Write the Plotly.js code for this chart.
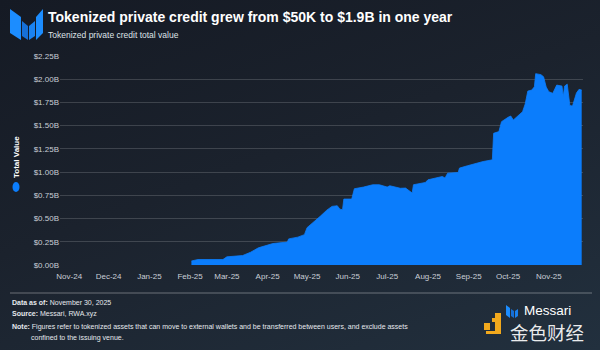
<!DOCTYPE html>
<html>
<head>
<meta charset="utf-8">
<script src="https://cdn.plot.ly/plotly-3.0.1.min.js"></script>
<style>
html,body{margin:0;padding:0;}
body{width:600px;height:350px;overflow:hidden;background:linear-gradient(160deg,#151a24 0%,#1b222d 45%,#22303e 100%);}
#chart{width:600px;height:350px;}
</style>
</head>
<body>
<div id="chart"></div>
<script>
// ---- data ----
const dates = ['2025-02-02','2025-02-07','2025-02-26','2025-03-01','2025-03-13','2025-03-19','2025-03-25','2025-03-30','2025-04-05','2025-04-16',
'2025-04-17','2025-04-24','2025-04-29','2025-05-01','2025-05-06','2025-05-11','2025-05-16','2025-05-20','2025-05-24','2025-05-26',
'2025-05-28','2025-05-29','2025-06-04','2025-06-06','2025-06-13','2025-06-20','2025-06-25','2025-07-01','2025-07-03','2025-07-11',
'2025-07-15','2025-07-17','2025-07-20','2025-07-21','2025-07-27','2025-07-30','2025-08-01','2025-08-07','2025-08-12','2025-08-14',
'2025-08-16','2025-08-24','2025-08-25','2025-08-31','2025-09-05','2025-09-12','2025-09-19','2025-09-20','2025-09-24','2025-09-26',
'2025-10-01','2025-10-03','2025-10-05','2025-10-08','2025-10-12','2025-10-14','2025-10-16','2025-10-19','2025-10-21','2025-10-22',
'2025-10-26','2025-10-28','2025-10-30','2025-11-01','2025-11-04','2025-11-07','2025-11-11','2025-11-12','2025-11-13','2025-11-15',
'2025-11-16','2025-11-17','2025-11-19','2025-11-22','2025-11-24','2025-11-26'];
// Total value, billions USD
const totalValueB = [0.043,0.059,0.059,0.088,0.102,0.137,0.185,0.209,0.231,0.247,
0.281,0.300,0.327,0.402,0.461,0.524,0.590,0.631,0.638,0.601,
0.595,0.710,0.710,0.821,0.839,0.864,0.864,0.839,0.853,0.826,
0.828,0.805,0.775,0.864,0.880,0.888,0.917,0.936,0.953,0.936,
0.989,0.996,1.043,1.068,1.089,1.114,1.132,1.418,1.436,1.543,
1.590,1.604,1.561,1.604,1.650,1.733,1.872,1.883,1.918,2.060,
2.049,2.026,1.915,1.865,1.848,1.937,1.926,1.813,1.926,1.947,
1.851,1.717,1.711,1.851,1.891,1.883];
const seriesName = 'Total Value';
const xRange = ['2024-10-25','2025-11-27'];
const yTickVals = [0,0.25,0.5,0.75,1,1.25,1.5,1.75,2,2.25];
const yTickText = ['$0.00B','$0.25B','$0.50B','$0.75B','$1.00B','$1.25B','$1.50B','$1.75B','$2.00B','$2.25B'];

const titleText = 'Tokenized private credit grew from $50K to $1.9B in one year';
const subtitleText = 'Tokenized private credit total value';
const footer1 = '<b>Data as of:</b> November 30, 2025';
const footer2 = '<b>Source:</b> Messari, RWA.xyz';
const footer3 = '<b>Note:</b> Figures refer to tokenized assets that can move to external wallets and be transferred between users, and exclude assets';
const footer4 = 'confined to the issuing venue.';

// ---- layout helpers: pixel -> paper ----
const L=60, R=583, T=56, B=265;
const px = x => (x-L)/(R-L);
const py = y => (B-y)/(B-T);
function poly(pts){ return 'M' + pts.map(p => px(p[0]).toFixed(4)+','+py(p[1]).toFixed(4)).join(' L') + ' Z'; }
function shp(pts, color){ return {type:'path', xref:'paper', yref:'paper', path:poly(pts), fillcolor:color, line:{width:0}, layer:'above'}; }

const FONT = 'Liberation Sans, Arial, sans-serif';
const ann = (x,y,text,size,opts) => Object.assign({xref:'paper',yref:'paper',x:px(x),y:py(y),text:text,showarrow:false,
  xanchor:'left',yanchor:'middle',font:{family:FONT,size:size,color:'#ffffff'}}, opts||{});
const FOOT = {family:FONT,size:7,color:'#e6e9ee'};

const trace = {
  x: dates, y: totalValueB, type:'scatter', mode:'lines', name: seriesName,
  fill:'tozeroy', fillcolor:'#0b7dfc', line:{color:'#0b7dfc', width:0.8, shape:'linear'},
  hoverinfo:'skip', showlegend:false
};

const layout = {
  width:600, height:350,
  margin:{l:L, r:600-R, t:T, b:350-B},
  paper_bgcolor:'rgba(0,0,0,0)', plot_bgcolor:'rgba(0,0,0,0)',
  showlegend:false,
  xaxis:{type:'date', range:xRange, dtick:'M1', tick0:'2024-11-01', tickformat:'%b-%y',
    showgrid:false, zeroline:false, showline:false, ticks:'', ticklen:0, ticklabelstandoff:5,
    tickfont:{family:FONT, size:8, color:'#c9ced6'}, fixedrange:true},
  yaxis:{range:[0,2.25], tickvals:yTickVals, ticktext:yTickText, showgrid:true,
    gridcolor:'rgba(255,255,255,0.16)', gridwidth:1, zeroline:false, showline:false, ticks:'',
    tickfont:{family:FONT, size:8, color:'#c9ced6'}, fixedrange:true},
  annotations:[
    ann(46,17,'<b>'+titleText+'</b>',14),
    ann(46,35,subtitleText,8.5,{font:{family:FONT,size:8.5,color:'#dfe3e8'}}),
    ann(16,157,'<b>'+seriesName+'</b>',8,{textangle:-90,xanchor:'center',yanchor:'middle'}),
    ann(10,302.5,footer1,7,{font:FOOT}),
    ann(10,314,footer2,7,{font:FOOT}),
    ann(10,326.5,footer3,7,{font:FOOT}),
    ann(29,337.5,footer4,7,{font:FOOT}),
    ann(522,310,'Messari',13.5,{font:{family:FONT,size:13.5,color:'#ffffff'}}),
    ann(508,332,'金色财经',18.5,{font:{family:'Noto Sans CJK SC, sans-serif',size:18.5,color:'rgba(255,255,255,0.92)'}})
  ],
  shapes:[
    // Messari logo (top-left)
    shp([[10,9],[21,17],[21,40],[10,33]], '#1c8dff'),
    shp([[22,21],[28,26],[28,40],[22,36]], '#1670d8'),
    shp([[29,26],[35,21],[35,36],[29,40]], '#1a82f0'),
    shp([[36,17],[43,9],[43,33],[36,40]], '#1c8dff'),
    // legend marker (oval)
    {type:'circle', xref:'paper', yref:'paper', x0:px(12.5), x1:px(19.5), y0:py(192), y1:py(182), fillcolor:'#0b7dfc', line:{width:0}},
    // separator line
    {type:'line', xref:'paper', yref:'paper', x0:px(10), x1:px(592), y0:py(293), y1:py(293), line:{color:'rgba(255,255,255,0.35)', width:1}},
    // small Messari mark bottom-right
    shp([[506,305],[510,308],[510,318],[506,315]], '#1c8dff'),
    shp([[511,309],[514,311],[514,318],[511,316]], '#1670d8'),
    shp([[515,311],[518,309],[518,316],[515,318]], '#1a82f0'),
    // 金色财经 yellow icon
    shp([[484,323],[490,323],[490,330],[484,330]], '#f2a91d'),
    shp([[492,318],[495,318],[495,322],[492,322]], '#f2a91d'),
    shp([[495,313],[501,313],[501,334],[486,334],[486,331],[495,331]], '#f2a91d')
  ]
};

Plotly.newPlot('chart',[trace],layout,{staticPlot:true, displayModeBar:false});
</script>
</body>
</html>
